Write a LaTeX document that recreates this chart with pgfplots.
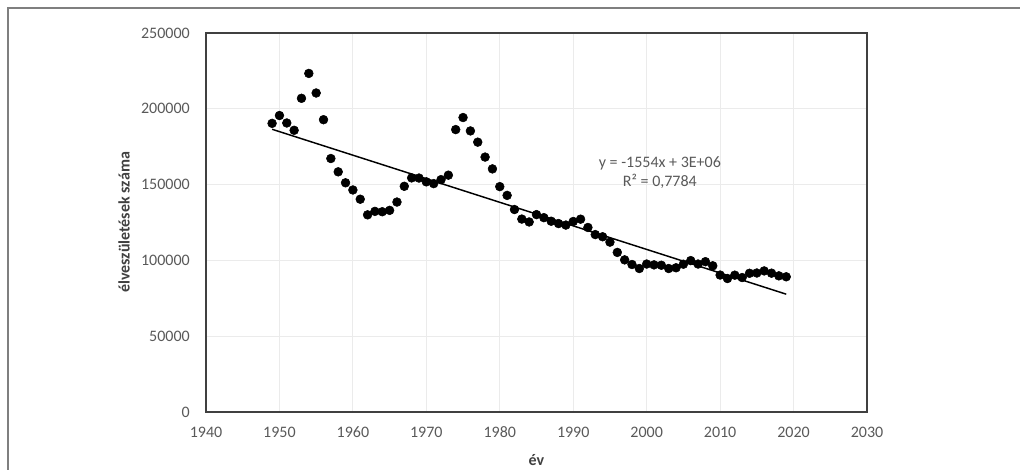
\documentclass[border=0pt]{standalone}
\usepackage{fontspec}
\setmainfont{Carlito}
\usepackage{pgfplots}
\usepackage{pgfplotstable}
\pgfplotsset{compat=1.18}
\definecolor{ticktext}{HTML}{595959}
\definecolor{labeltext}{HTML}{404040}
\definecolor{plotframe}{HTML}{404040}
\definecolor{outerframe}{HTML}{7F7F7F}
\definecolor{gridc}{HTML}{EBEBEB}

% live births per year
\pgfplotstableread{
ev szuletes
1949 190398
1950 195567
1951 190645
1952 185820
1953 206926
1954 223347
1955 210430
1956 192810
1957 167202
1958 158428
1959 151194
1960 146461
1961 140365
1962 130053
1963 132335
1964 132105
1965 133009
1966 138489
1967 148886
1968 154419
1969 154318
1970 151819
1971 150640
1972 153265
1973 156224
1974 186288
1975 194240
1976 185405
1977 178001
1978 168160
1979 160364
1980 148673
1981 142890
1982 133556
1983 127258
1984 125359
1985 130200
1986 128204
1987 125840
1988 124296
1989 123304
1990 125679
1991 127207
1992 121724
1993 117033
1994 115598
1995 112054
1996 105272
1997 100350
1998 97301
1999 94645
2000 97597
2001 97047
2002 96804
2003 94647
2004 95137
2005 97496
2006 99871
2007 97613
2008 99149
2009 96442
2010 90335
2011 88049
2012 90269
2013 88689
2014 91510
2015 91690
2016 93063
2017 91577
2018 89807
2019 89193
}\births

\begin{document}
\begin{tikzpicture}
\useasboundingbox (0,0) rectangle (765pt,351.75pt);
\draw[outerframe, line width=1.3pt] (6pt,-10pt) -- (6pt,345.75pt) -- (780pt,345.75pt);
\begin{axis}[
    at={(154.5pt,42.75pt)}, anchor=south west,
    scale only axis,
    width=495.75pt, height=284.25pt,
    xmin=1940, xmax=2030,
    ymin=0, ymax=250000,
    xtick={1940,1950,1960,1970,1980,1990,2000,2010,2020,2030},
    xticklabels={1940,1950,1960,1970,1980,1990,2000,2010,2020,2030},
    ytick={0,50000,100000,150000,200000,250000},
    yticklabels={0,50000,100000,150000,200000,250000},
    scaled y ticks=false,
    major tick length=0pt,
    grid=major,
    major grid style={gridc, line width=0.8pt},
    axis line style={plotframe, line width=1.5pt},
    ticklabel style={font=\fontsize{12}{13}\selectfont, text=ticktext},
    xticklabel style={inner sep=0pt, anchor=north, yshift=-11pt},
    yticklabel style={inner sep=0pt, anchor=east, xshift=-12pt},
    xlabel={év},
    ylabel={élveszületések száma},
    every axis x label/.style={at={(rel axis cs:0.5,0)}, anchor=center, yshift=-36pt,
        font=\bfseries\fontsize{12}{13}\selectfont, text=labeltext},
    every axis y label/.style={at={(rel axis cs:0,0.5)}, anchor=center, xshift=-61.5pt, rotate=90,
        font=\bfseries\fontsize{12}{13}\selectfont, text=labeltext},
    clip=false,
]
\addplot[only marks, mark=*, mark size=3.3pt, black] table[x=ev, y=szuletes] {\births};
\addplot[black, line width=1.1pt] coordinates {(1949,186500) (2019,77720)};
\node[align=center, text=ticktext, font=\fontsize{12}{14}\selectfont] at (axis cs:2001.8,158000)
    {y = -1554x + 3E+06\\R² = 0,7784};
\end{axis}
\end{tikzpicture}
\end{document}
